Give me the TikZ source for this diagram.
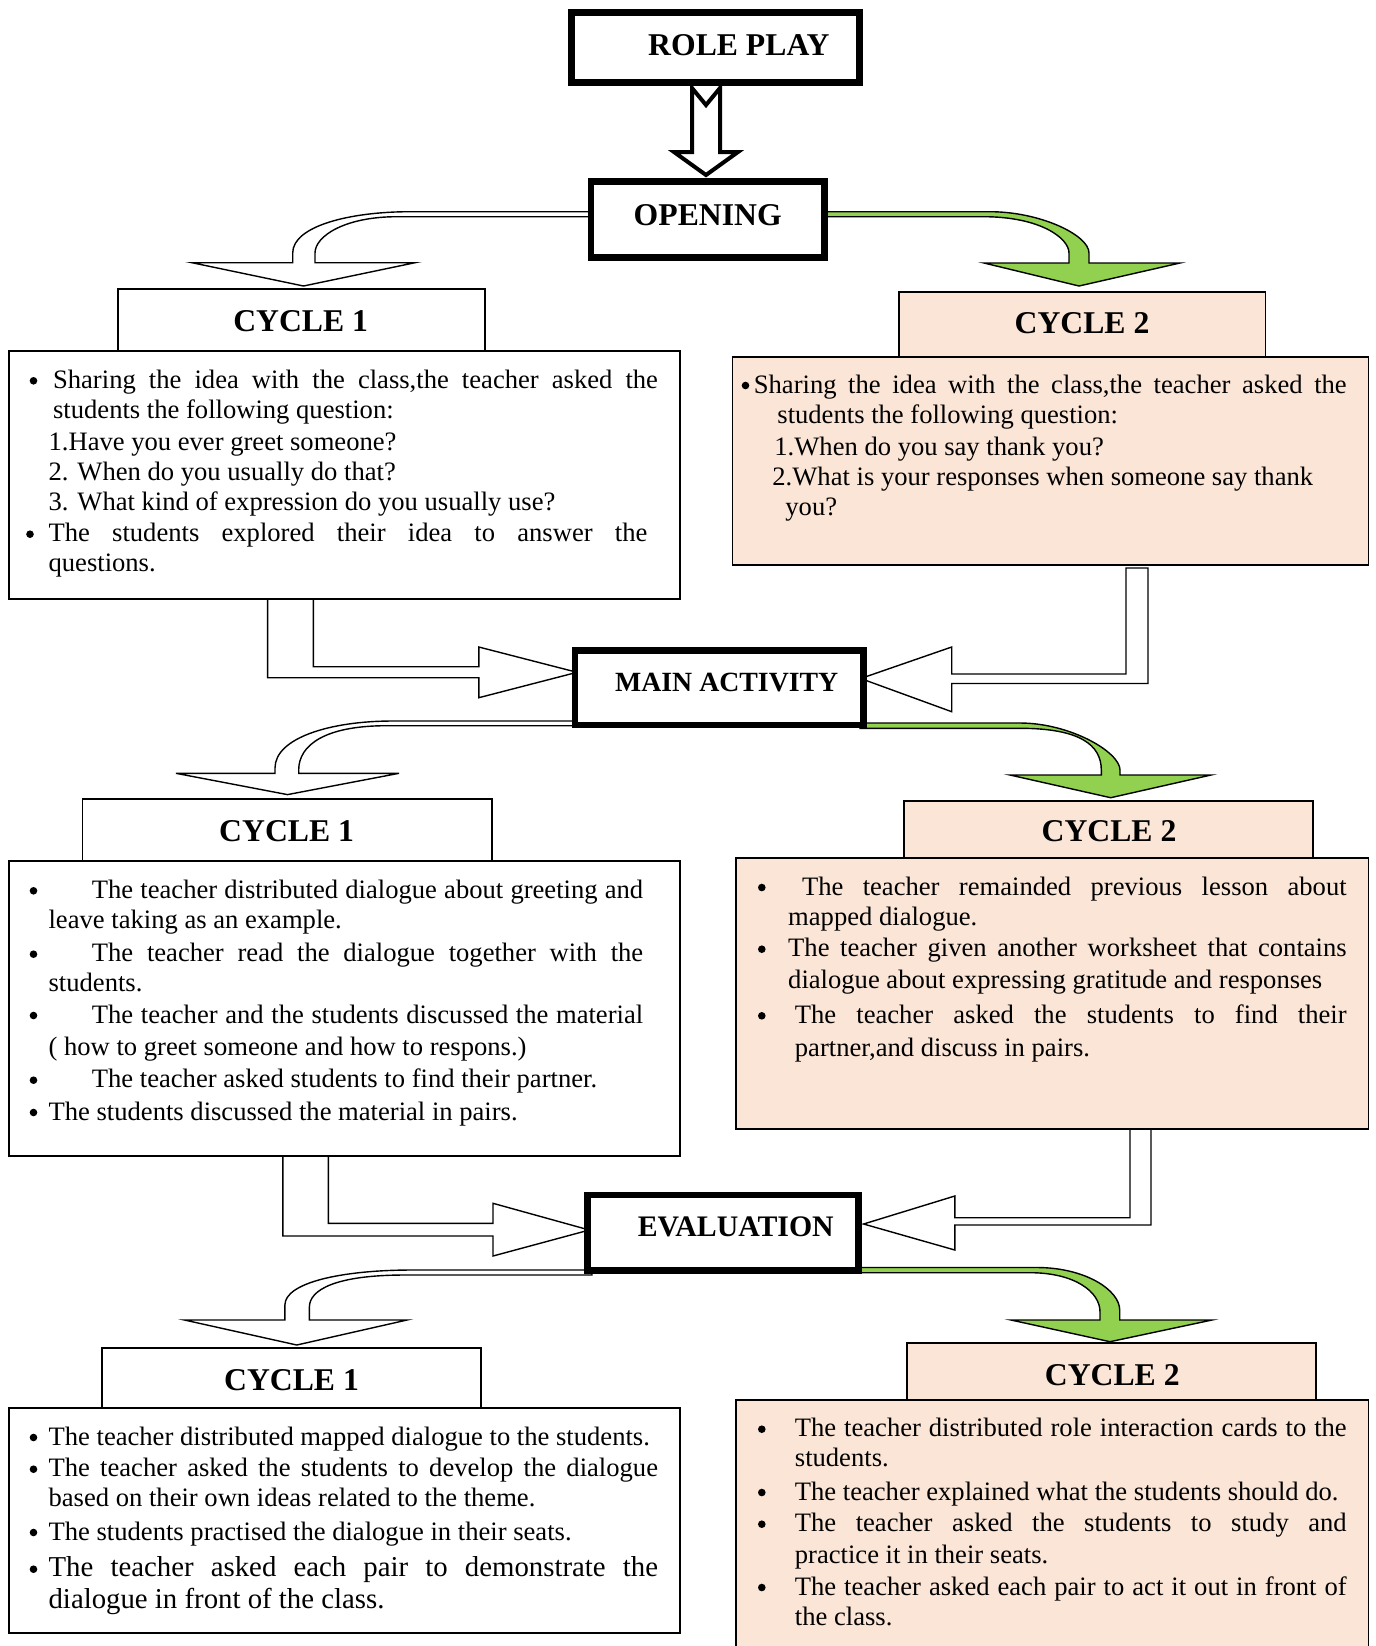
\documentclass[tikz,border=0pt]{standalone}
\usepackage{fontspec}
\setmainfont{Liberation Serif}
\definecolor{peach}{HTML}{FBE5D6}
\definecolor{lgreen}{HTML}{92D050}
\newcommand{\BoxNode}[6]{\node[#6, inner sep=0pt, minimum width={(#4-#2)*0.5pt}, minimum height={(#5-#3)*0.5pt}] (#1) at ({(#2+#4)/2},{(#3+#5)/2}) {};}
\newcommand{\TxtLine}[4]{\node[txt] (#1) at (#2,#3) {#4};}
\newcommand{\JusLine}[5]{\node[txt] (#1) at (#2,#3) {\makebox[#4][s]{#5}};}
\newcommand{\Bul}[3]{\node[dot] (#1) at (#2,{#3-7.5}) {};}
\tikzset{
  thickbox/.style={draw=black, line width=3.3pt, fill=white},
  thinbox/.style={draw=black, line width=0.85pt, fill=white},
  peachbox/.style={draw=black, line width=0.85pt, fill=peach},
  hollow/.style={draw=black, line width=0.7pt, fill=white, line join=miter},
  greenarr/.style={draw=black, line width=0.7pt, fill=lgreen, line join=miter},
  bigarr/.style={draw=black, line width=2pt, fill=white, line join=miter},
  txt/.style={inner sep=0pt, anchor=base west, font=\fontsize{13.3}{16}\selectfont},
  txtbig/.style={inner sep=0pt, anchor=base west, font=\fontsize{14.4}{17}\selectfont},
  dot/.style={circle, fill=black, draw=none, inner sep=0pt, minimum size=3.8pt},
  hdr/.style={inner sep=0pt, anchor=base, font=\fontsize{15.85}{19}\selectfont\bfseries},
}
\begin{document}
\begin{tikzpicture}[x=0.5pt,y=-0.5pt]
\useasboundingbox (0,0) rectangle (1376,1646);
\clip (0,0) rectangle (1376,1646);
\fill[white] (0,0) rectangle (1376,1646);

% ---------- arrows ----------
\draw[bigarr] (692,88) -- (706,105) -- (720,88) -- (720,152) -- (738,152) -- (706,175) -- (674,152) -- (692,152) -- cycle;

\draw[hollow] (596,211.7) -- (410,211.7) .. controls (350,211.7) and (292.7,226) .. (292.7,253) -- (292.7,262.7) -- (192,262.7) -- (303.5,286) -- (415,262.7) -- (315,262.7) -- (315,253) .. controls (315,236) and (345,216.7) .. (397,216.7) -- (596,216.7) -- cycle;
\draw[greenarr] (821,211.7) -- (990,211.7) .. controls (1040,211.7) and (1089,235) .. (1089,253) -- (1089,263) -- (1180,263) -- (1079,286) -- (984,263) -- (1069,263) -- (1069,253) .. controls (1069,238) and (1040,216.7) .. (983.5,216.7) -- (821,216.7) -- cycle;

\draw[hollow] (267.6,599) -- (267.6,677.7) -- (478.8,677.7) -- (478.8,697.7) -- (577,672.3) -- (478.8,647) -- (478.8,666.7) -- (313.3,666.7) -- (313.3,599) -- cycle;
\draw[hollow] (1126,568) -- (1126,674) -- (951.7,674) -- (951.7,647) -- (860.7,678.5) -- (951.7,711.7) -- (951.7,683.5) -- (1148,683.5) -- (1148,568) -- cycle;

\draw[hollow] (579,721) -- (392.5,721) .. controls (330,721) and (275,738) .. (275,768) -- (275,773.3) -- (176,773.3) -- (287.5,794.6) -- (399,773.3) -- (298.7,773.3) -- (298.7,770) .. controls (298.7,745) and (325,725.7) .. (386.7,725.7) -- (579,725.7) -- cycle;
\draw[greenarr] (860,723) -- (1020,723) .. controls (1070,723) and (1120,752) .. (1120,770) -- (1120,775) -- (1211,775) -- (1110.7,797.7) -- (1010,775) -- (1101.3,775) -- (1101.3,770) .. controls (1101.3,745) and (1080,728.3) .. (1020,728.3) -- (860,728.3) -- cycle;

\draw[hollow] (282.8,1156) -- (282.8,1236) -- (493,1236) -- (493,1256) -- (589.3,1230) -- (493,1203.3) -- (493,1223.3) -- (328.4,1223.3) -- (328.4,1156) -- cycle;
\draw[hollow] (1130,1129) -- (1130,1217.7) -- (954.8,1217.7) -- (954.8,1196) -- (863.6,1224) -- (954.8,1250) -- (954.8,1225) -- (1151,1225) -- (1151,1129) -- cycle;

\draw[hollow] (592,1270) -- (412.5,1270) .. controls (340,1270) and (284.9,1283) .. (284.9,1305) -- (284.9,1320) -- (184.5,1320) -- (296.8,1345) -- (407,1320) -- (309.4,1320) -- (309.4,1307) .. controls (309.4,1290) and (335,1275) .. (405,1275) -- (592,1275) -- cycle;
\draw[greenarr] (855,1267.5) -- (1037,1267.5) .. controls (1085,1267.5) and (1119.7,1290) .. (1119.7,1310) -- (1119.7,1320) -- (1212,1320) -- (1110,1341.7) -- (1011,1320) -- (1100,1320) -- (1100,1311.7) .. controls (1100,1292) and (1075,1272.7) .. (1030,1272.7) -- (855,1272.7) -- cycle;

% ---------- boxes ----------
\BoxNode{roleplay}{571.3}{12.3}{859.7}{82.7}{thickbox}
\BoxNode{opening}{590.8}{181.3}{824.7}{257.7}{thickbox}
\BoxNode{mainact}{574.8}{650.3}{863.3}{725}{thickbox}
\BoxNode{evaluation}{587.3}{1195}{858.4}{1270.7}{thickbox}

\BoxNode{h1}{118}{289}{485}{351}{thinbox}
\BoxNode{h2}{898.7}{291.7}{1265.6}{356.7}{peachbox}
\BoxNode{h3}{82.6}{799.3}{492}{861}{thinbox}
\BoxNode{h4}{904}{801}{1313}{857.7}{peachbox}
\BoxNode{h5}{101.8}{1348.3}{481}{1408.3}{thinbox}
\BoxNode{h6}{907}{1342.7}{1316}{1400}{peachbox}

\BoxNode{c1}{9}{351}{680}{599}{thinbox}
\BoxNode{c2}{732.5}{356.7}{1368.5}{565}{peachbox}
\BoxNode{c3}{9}{861}{680}{1155.7}{thinbox}
\BoxNode{c4}{736}{857.7}{1368.5}{1129.3}{peachbox}
\BoxNode{c5}{9}{1408.3}{680}{1633.3}{thinbox}
\BoxNode{c6}{736}{1400}{1368.5}{1670}{peachbox}

% ---------- titles ----------
\node[hdr] (troleplay) at (738.8,55) {ROLE PLAY};
\node[hdr] (topening) at (707.7,225) {OPENING};
\node[hdr, font=\fontsize{13.9}{17}\selectfont\bfseries] (tmainact) at (726.7,691.7) {MAIN ACTIVITY};
\node[hdr, font=\fontsize{14.9}{17}\selectfont\bfseries] (tevaluation) at (735.8,1236.7) {EVALUATION};
\node[hdr] (th1) at (300.7,331.7) {CYCLE 1};
\node[hdr] (th2) at (1082,333.3) {CYCLE 2};
\node[hdr] (th3) at (286.6,841.7) {CYCLE 1};
\node[hdr] (th4) at (1109,841.7) {CYCLE 2};
\node[hdr] (th5) at (291.5,1390.7) {CYCLE 1};
\node[hdr] (th6) at (1112.3,1385) {CYCLE 2};

% ---------- top-left text ----------
\Bul{b1a}{33.5}{388.3}
\JusLine{t1a}{52.7}{388.3}{302.45pt}{Sharing the idea with the class,the teacher asked the}
\TxtLine{t1b}{52.7}{418.3}{students the following question:}
\TxtLine{t1c}{48.2}{450}{1.Have you ever greet someone?}
\TxtLine{t1d}{48.2}{480}{2. When do you usually do that?}
\TxtLine{t1e}{48.2}{510}{3. What kind of expression do you usually use?}
\Bul{b1b}{30}{541.7}
\JusLine{t1f}{48.2}{541.7}{299.4pt}{The students explored their idea to answer the}
\TxtLine{t1g}{48.2}{571.7}{questions.}

% ---------- top-right text ----------
\Bul{b2a}{745.5}{393}
\JusLine{t2a}{753.5}{393}{296.4pt}{Sharing the idea with the class,the teacher asked the}
\TxtLine{t2b}{777}{423}{students the following question:}
\TxtLine{t2c}{774}{455}{1.When do you say thank you?}
\TxtLine{t2d}{772}{485}{2.What is your responses when someone say thank}
\TxtLine{t2e}{785}{515}{you?}

% ---------- middle-left text ----------
\Bul{b3a}{33.5}{898.3}
\JusLine{t3a}{91.5}{898.3}{275.65pt}{The teacher distributed dialogue about greeting and}
\TxtLine{t3b}{48.2}{928.3}{leave taking as an example.}
\Bul{b3b}{33.5}{961.7}
\JusLine{t3c}{91.5}{961.7}{275.65pt}{The teacher read the dialogue together with the}
\TxtLine{t3d}{48.2}{991.7}{students.}
\Bul{b3c}{33.5}{1023}
\JusLine{t3e}{91.5}{1023}{275.65pt}{The teacher and the students discussed the material}
\TxtLine{t3f}{48.2}{1055}{( how to greet someone and how to respons.)}
\Bul{b3d}{33.5}{1087.7}
\TxtLine{t3g}{91.5}{1087.7}{The teacher asked students to find their partner.}
\Bul{b3e}{33.5}{1120}
\TxtLine{t3h}{48.2}{1120}{The students discussed the material in pairs.}

% ---------- middle-right text ----------
\Bul{b4a}{761.8}{895}
\JusLine{t4a}{801.6}{895}{272.35pt}{The teacher remainded previous lesson about}
\TxtLine{t4b}{787.8}{925}{mapped dialogue.}
\Bul{b4b}{761.8}{956.7}
\JusLine{t4c}{787.8}{956.7}{279.25pt}{The teacher given another worksheet that contains}
\TxtLine{t4d}{787.8}{988.3}{dialogue about expressing gratitude and responses}
\Bul{b4c}{761.8}{1023.3}
\JusLine{t4e}{794.5}{1023.3}{275.9pt}{The teacher asked the students to find their}
\TxtLine{t4f}{794.5}{1056.7}{partner,and discuss in pairs.}

% ---------- bottom-left text ----------
\Bul{b5a}{33.5}{1445}
\TxtLine{t5a}{48.2}{1445}{The teacher distributed mapped dialogue to the students.}
\Bul{b5b}{33.5}{1476.7}
\JusLine{t5b}{48.2}{1476.7}{304.7pt}{The teacher asked the students to develop the dialogue}
\TxtLine{t5c}{48.2}{1506.7}{based on their own ideas related to the theme.}
\Bul{b5c}{33.5}{1540}
\TxtLine{t5d}{48.2}{1540}{The students practised the dialogue in their seats.}
\Bul{b5d}{33.5}{1576.7}
\node[txtbig] (t5e) at (48.2,1576.7) {\makebox[304.7pt][s]{The teacher asked each pair to demonstrate the}};
\node[txtbig] (t5f) at (48.2,1608.3) {dialogue in front of the class.};

% ---------- bottom-right text ----------
\Bul{b6a}{761.8}{1436.7}
\JusLine{t6a}{794.5}{1436.7}{275.9pt}{The teacher distributed role interaction cards to the}
\TxtLine{t6b}{794.5}{1466.7}{students.}
\Bul{b6b}{761.8}{1500}
\TxtLine{t6c}{794.5}{1500}{The teacher explained what the students should do.}
\Bul{b6c}{761.8}{1531.7}
\JusLine{t6d}{794.5}{1531.7}{275.9pt}{The teacher asked the students to study and}
\TxtLine{t6e}{794.5}{1563.3}{practice it in their seats.}
\Bul{b6d}{761.8}{1595}
\JusLine{t6f}{794.5}{1595}{275.9pt}{The teacher asked each pair to act it out in front of}
\TxtLine{t6g}{794.5}{1625}{the class.}
\end{tikzpicture}
\end{document}
